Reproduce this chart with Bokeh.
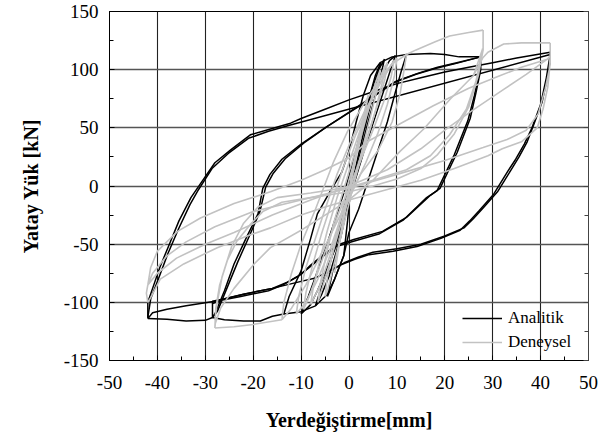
from bokeh.plotting import figure
from bokeh.models import Range1d, SingleIntervalTicker, LinearAxis, Legend, LegendItem, CustomJSTickFormatter
from bokeh.embed import file_html
from bokeh.resources import INLINE

# ---------------- axis ticks ----------------
x_ticks = [-50, -40, -30, -20, -10, 0, 10, 20, 30, 40, 50]
y_ticks = [-150, -100, -50, 0, 50, 100, 150]

# ---------------- Analitik (black) ----------------
an_env_pos_x = [12, 17, 20, 23, 27.5]
an_env_pos_y = [113, 114, 113, 111, 111]
an_env_neg_x = [-13.6, -16, -18.5, -22, -26, -28.5, -30, -34, -38, -42]
an_env_neg_y = [-110, -112, -116, -116, -115, -113, -115.5, -116, -114.5, -114]

an_l1_x = [-4.5, -3.0, -1.1, -0.3, 0.5, 1.5, 3.0, 4.5, 5.5, 6.6, 6.0, 4.5, 3.0, 1.5, 0.0, -1.5, -3.0, -4.0, -4.5]
an_l1_y = [-95, -80, -60, -30, 5, 30, 55, 80, 95, 106, 95, 70, 45, 18, -10, -40, -65, -85, -95]

an_l2_x = [-10, -8.5, -7, -5, -3, -1, 1, 3, 5, 7, 8.5, 9.7, 9, 7.5, 5.5, 3.5, 1.5, -1, -3, -5, -6.6, -8, -10]
an_l2_y = [-110, -95, -78, -55, -30, -5, 22, 50, 78, 98, 108, 112, 104, 85, 60, 35, 8, -25, -55, -75, -90, -102, -110]

an_l3_x = [-13.6, -12.5, -10, -8, -6.6, -4, -1.5, 0, 1.5, 3, 4.5, 6.5, 9, 12,
           11, 9.5, 8, 6, 4, 2, 0, -1.1, -3, -4.5, -7, -10, -13.6]
an_l3_y = [-110, -95, -73, -45, -24, -5, 12, 30, 55, 78, 95, 106, 111, 113,
           100, 78, 55, 30, 5, -20, -40, -60, -80, -93, -103, -108, -110]

an_l4_x = [-7, -6, -4.2, -2.5, -1.2, 0.2, 1.8, 3.4, 5.0, 6.2, 7.4, 6.8, 5.4, 3.8, 2.2, 0.6, -1.0, -2.6, -4.2, -5.8, -7]
an_l4_y = [-103, -90, -70, -45, -20, 8, 36, 62, 86, 100, 109, 98, 76, 52, 26, -2, -30, -56, -78, -94, -103]

an_l28_x = [-28.5, -28, -26, -24, -21.5, -19, -18, -16.5, -14, -10, -5, 1, 5, 9.4, 14, 18, 22, 27.5,
            27.5, 26.5, 25.3, 22.6, 19, 17, 12, 7, 1, -2, -5, -8, -10, -13, -16, -22, -26, -28.5, -28.5]
an_l28_y = [-113, -110, -90, -67, -45, -24, -2, 10, 23, 36, 50, 66, 77, 89, 96, 101, 105, 111,
            100, 80, 58, 29, -2, -8, -27, -39, -46, -50, -58, -68, -76, -83, -88, -93, -97, -99, -113]

an_l28b_x = [-28.5, -27.5, -25.5, -23.2, -20.8, -18.6, -17.4, -15.8, -13.2, -9.4, -4.6, 1.5, 5.5, 9.8, 14.5, 18.5, 22.5, 27.5,
             27.2, 26.2, 24.8, 22.0, 18.4, 16.2, 11.4, 6.4, 0.6, -2.6, -5.6, -8.6, -10.8, -13.8, -16.8, -22.6, -26.4, -28.5]
an_l28b_y = [-113, -108, -88, -65, -43, -22, -1, 11, 24, 37, 51, 67, 78, 90, 97, 102, 106, 111,
             98, 78, 56, 27, -4, -10, -29, -41, -48, -52, -61, -71, -78, -85, -90, -95, -98, -101]

an_l42_x = [-42, -42, -41, -39.5, -37.5, -35.5, -33, -31, -28, -24.7, -20.6, -16.4, -12.2, -10, -5, 0, 5, 10, 15, 20, 25, 30, 35, 42,
            42, 41.5, 40.3, 38.5, 37.2, 35.5, 34, 31, 28, 26, 24, 20, 15, 10, 5, 2, -1, -4, -7, -10, -16, -22, -28, -34, -38, -41, -42]
an_l42_y = [-114, -100, -88, -70, -50, -30, -10, 2, 20, 31, 44, 49, 54, 58, 66, 74, 81, 88, 93, 98, 102, 106, 110, 115,
            108, 95, 72, 52, 38, 25, 15, -5, -19, -28, -36, -43, -50, -54, -57, -61, -66, -73, -79, -82, -88, -93, -99, -103, -106, -109, -114]

an_l42b_x = [-42, -41.4, -39.8, -37.8, -35.6, -33.2, -31.4, -28.6, -25.2, -21.0, -16.8, -12.6,
             42, 41.2, 40.0, 38.2, 36.6, 34.8, 33.2, 30.2, 27.2, 25.2, 23.2, 19.2, 14.2, 9.2, 4.2, 1.2, -1.8, -4.8]
an_l42b_y = [-113, -97, -80, -58, -37, -16, -3, 15, 28, 41, 47, 52,
             113, 93, 70, 50, 36, 23, 13, -7, -21, -30, -38, -45, -52, -56, -59, -63, -68, -75]

# ---------------- Deneysel (grey) ----------------
ex_s0_x = [-3, -2, -0.5, 1, 2.5, 4, 3, 1.5, 0, -1.5, -3]
ex_s0_y = [-75, -50, -15, 20, 50, 78, 55, 25, -5, -35, -75]

ex_s1_x = [-5, -4.5, -3, -1.5, 0, 2, 4, 5.5, 6.5, 6, 4.5, 3, 1.5, 0, -1.5, -3, -4.5, -5]
ex_s1_y = [-95, -78, -50, -22, 5, 35, 65, 88, 100, 85, 60, 35, 10, -15, -40, -65, -90, -95]

ex_s2_x = [-8, -7.5, -6, -4.5, -2.5, 0, 2.5, 5, 7, 8, 7.5, 6, 4, 2, 0, -2, -4, -6, -8]
ex_s2_y = [-102, -88, -62, -38, -10, 20, 50, 78, 98, 106, 92, 70, 45, 20, -5, -32, -60, -85, -102]

ex_s3_x = [-11, -10.5, -9, -7, -5, -2.5, 0, 3, 6, 8.5, 10, 9.5, 8, 6, 3.5, 1, -1.5, -4, -6.5, -9, -11]
ex_s3_y = [-110, -95, -70, -45, -20, 10, 35, 62, 85, 102, 110, 95, 70, 45, 20, -2, -25, -55, -80, -100, -110]

ex_s4_x = [-14, -13.6, -12, -10, -7, -3.2, -0.3, 3, 6, 9, 12, 11.5, 10.7, 9, 6, 2.4, 0, -3, -6, -9, -12, -14]
ex_s4_y = [-115, -100, -75, -50, -20, 21, 47, 70, 89, 105, 113, 100, 80, 55, 30, 10, -10, -35, -60, -85, -105, -115]

ex_s5_x = [-6.5, -6, -4.8, -3.2, -1.2, 1, 3.2, 5.4, 7, 7.6, 7, 5.6, 3.8, 1.8, -0.2, -2.2, -4, -5.6, -6.5]
ex_s5_y = [-100, -84, -60, -32, -4, 26, 55, 82, 98, 104, 90, 66, 40, 14, -12, -40, -66, -88, -100]

ex_s6_x = [-9.5, -9, -7.6, -5.8, -3.6, -1.2, 1.4, 4.2, 7, 8.8, 9.4, 8.8, 7.2, 5, 2.6, 0.2, -2.4, -4.8, -7, -8.6, -9.5]
ex_s6_y = [-106, -92, -68, -42, -14, 16, 44, 70, 92, 104, 108, 94, 72, 48, 24, 0, -26, -54, -80, -98, -106]

ex_env_pos_x = [12, 14, 18, 21, 25, 28]
ex_env_pos_y = [113, 117, 124, 129, 132, 134]
ex_env_neg_x = [-14, -20, -24, -28]
ex_env_neg_y = [-115, -119, -121, -122]

ex_l28_x = [28, 28, 27, 25, 22, 18.5, 15, 10, 5, 0, -8, -14, -18, -20.6, -23.5, -25.4, -27, -27.8, -28,
            -27.9, -26.8, -24, -19.8, -16.4, -10, -5, 0, 5, 10.7, 15.6, 21.2, 26, 27.9,
            26.5, 24.5, 21, 17, 12, 5, 0, -8, -15, -19, -22, -24.5, -26.5, -27.5, -28]
ex_l28_y = [134, 117, 95, 68, 45, 27, 15, 6, 0, -5, -10, -14, -22, -33, -48, -64, -85, -105, -122,
            -118, -105, -88, -67, -53, -38, -25, -12, 5, 30, 49, 75, 95, 118,
            90, 66, 44, 26, 14, 5, -1, -6, -10, -18, -32, -52, -78, -100, -115]

ex_l42_p1_x = [26, 27.9, 29, 32.3, 36, 42]
ex_l42_p1_y = [95, 110, 115, 122, 123, 123]

ex_l42_x = [42, 42, 41.5, 40.5, 39.3, 36, 32, 29, 22, 15, 8, 0, -5, -10, -16.4, -20.6, -27.5, -34.5, -39.4, -41.4, -42,
            -42.3, -42, -41.4, -40, -35.8, -31, -24, -16.4, -10, -5, 0, 3.8, 10, 17.6, 25, 31.6, 36, 41.4, 42,
            41.8, 41, 39.5, 37, 33, 28, 20, 10, 0, -10, -20, -28, -34, -38, -41, -42,
            -40, -36, -30, -24, -16, -8, 0, 8, 15, 20, 25.4, 32.3, 37, 41.4]
ex_l42_y = [123, 106, 85, 66, 50, 38, 32, 26, 15, 5, -3, -12, -18, -25, -36, -42, -53, -67, -80, -96, -100,
            -92, -85, -70, -56, -39, -27.5, -15, -5, 5, 14, 24, 38, 52, 69, 84, 95, 102, 109, 112,
            100, 84, 62, 48, 40, 33, 22, 10, -2, -12, -22, -35, -48, -60, -75, -85,
            -75, -62, -50, -40, -25, -12, 0, 14, 32, 48, 64, 83, 96, 109]

analitik_xs = [an_env_pos_x, an_env_neg_x, an_l1_x, an_l2_x, an_l3_x, an_l4_x, an_l28_x, an_l28b_x, an_l42_x, an_l42b_x]
analitik_ys = [an_env_pos_y, an_env_neg_y, an_l1_y, an_l2_y, an_l3_y, an_l4_y, an_l28_y, an_l28b_y, an_l42_y, an_l42b_y]

deneysel_xs = [ex_s0_x, ex_s1_x, ex_s2_x, ex_s3_x, ex_s4_x, ex_s5_x, ex_s6_x, ex_env_pos_x, ex_env_neg_x, ex_l28_x, ex_l42_p1_x, ex_l42_x]
deneysel_ys = [ex_s0_y, ex_s1_y, ex_s2_y, ex_s3_y, ex_s4_y, ex_s5_y, ex_s6_y, ex_env_pos_y, ex_env_neg_y, ex_l28_y, ex_l42_p1_y, ex_l42_y]

FONT = "'Liberation Serif'"

p = figure(frame_width=479, frame_height=349,
           min_border_left=109, min_border_right=24, min_border_top=11, min_border_bottom=76,
           x_range=Range1d(x_ticks[0], x_ticks[-1]), y_range=Range1d(y_ticks[0], y_ticks[-1]),
           output_backend="svg", toolbar_location=None)
p.background_fill_color = "white"
p.border_fill_color = "white"
p.outline_line_color = "black"
p.outline_line_width = 1

xt = SingleIntervalTicker(interval=10, num_minor_ticks=2)
yt = SingleIntervalTicker(interval=50, num_minor_ticks=2)
plain_fmt = CustomJSTickFormatter(code="return String(tick)")

xa = p.xaxis[0]
xa.ticker = xt
ya = p.yaxis[0]
ya.ticker = yt
for ax in (xa, ya):
    ax.formatter = plain_fmt
    ax.major_tick_in = 5
    ax.major_tick_out = 0
    ax.minor_tick_in = 4
    ax.minor_tick_out = 0
    ax.axis_line_color = "black"
    ax.major_tick_line_color = "black"
    ax.minor_tick_line_color = "black"
    ax.major_label_text_font = FONT
    ax.major_label_text_font_style = "normal"
    ax.major_label_text_font_size = "19px"
    ax.major_label_text_color = "black"
    ax.axis_label_text_font = FONT
    ax.axis_label_text_font_size = "20px"
    ax.axis_label_text_font_style = "bold"
    ax.axis_label_text_color = "black"
xa.major_label_standoff = 15
ya.major_label_standoff = 11
xa.axis_label = "Yerdeğiştirme[mm]"
ya.axis_label = "Yatay Yük [kN]"
xa.axis_label_standoff = 17
ya.axis_label_standoff = 19

ra = LinearAxis(ticker=SingleIntervalTicker(interval=50, num_minor_ticks=2),
                formatter=CustomJSTickFormatter(code="return ''"),
                major_tick_in=5, major_tick_out=0, minor_tick_in=4, minor_tick_out=0,
                major_label_text_color=None, major_label_standoff=0,
                axis_line_color="#444444", major_tick_line_color="#444444", minor_tick_line_color="#444444")
p.add_layout(ra, "right")

p.xgrid.ticker = xt
p.ygrid.ticker = yt
p.xgrid.grid_line_color = "#222222"
p.xgrid.grid_line_width = 1.1
p.ygrid.grid_line_color = "#555555"
p.ygrid.grid_line_width = 1.5

r1 = p.multi_line(xs=analitik_xs, ys=analitik_ys, line_color="black", line_width=1.5)
r2 = p.multi_line(xs=deneysel_xs, ys=deneysel_ys, line_color="#c2c2c2", line_width=1.6)

legend = Legend(items=[LegendItem(label="Analitik", renderers=[r1]),
                       LegendItem(label="Deneysel", renderers=[r2])],
                location=(353, 8), padding=0, margin=0, border_line_color=None,
                background_fill_alpha=0, glyph_width=40, glyph_height=20,
                label_height=20, label_standoff=6, spacing=4,
                label_text_font=FONT, label_text_font_size="17px", label_text_color="black")
p.add_layout(legend)

open("out.html", "w", encoding="utf-8").write(file_html(p, INLINE))
